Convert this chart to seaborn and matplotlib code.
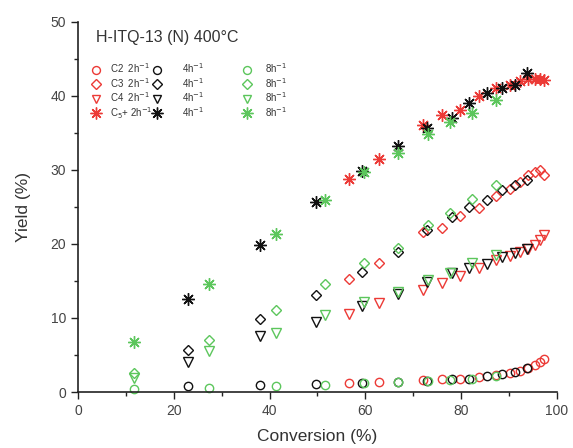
import numpy as np
import pandas as pd
import matplotlib
matplotlib.use("Agg")
import matplotlib.pyplot as plt
from matplotlib.lines import Line2D
import seaborn as sns

# conversion (%) for each space velocity
conv_2h = [56.6, 62.9, 72.0, 76.0, 79.8, 83.8, 87.3, 90.1, 92.3, 94.0, 95.4, 96.5, 97.3]
conv_4h = [22.9, 38.1, 49.6, 59.4, 66.9, 72.8, 78.0, 81.6, 85.3, 88.6, 91.2, 93.7]
conv_8h = [11.8, 27.3, 41.3, 51.6, 59.7, 66.8, 73.0, 77.7, 82.2, 87.2]

# yields (%) - 2h-1
c2_2h = [1.2, 1.4, 1.6, 1.8, 1.8, 2.0, 2.3, 2.5, 2.9, 3.2, 3.6, 4.0, 4.4]
c3_2h = [15.2, 17.4, 21.6, 22.1, 23.7, 24.8, 26.5, 27.4, 28.4, 29.3, 29.7, 30.0, 29.3]
c4_2h = [10.5, 12.0, 13.8, 14.7, 15.6, 16.7, 17.8, 18.3, 18.9, 19.3, 19.8, 20.5, 21.2]
c5_2h = [28.8, 31.5, 36.0, 37.4, 38.1, 39.9, 41.0, 41.4, 42.0, 42.2, 42.3, 42.2, 42.1]

# yields (%) - 4h-1
c2_4h = [0.8, 1.0, 1.1, 1.2, 1.4, 1.5, 1.7, 1.8, 2.1, 2.4, 2.7, 3.2]
c3_4h = [5.7, 9.8, 13.1, 16.2, 18.9, 21.8, 23.6, 25.0, 25.9, 27.2, 27.9, 28.6]
c4_4h = [4.1, 7.5, 9.5, 11.6, 13.2, 14.8, 16.0, 16.8, 17.3, 18.2, 18.8, 19.3]
c5_4h = [12.5, 19.8, 25.7, 29.8, 33.2, 35.6, 37.0, 39.0, 40.3, 41.0, 41.4, 43.0]

# yields (%) - 8h-1
c2_8h = [0.4, 0.5, 0.8, 0.9, 1.2, 1.3, 1.5, 1.6, 1.8, 2.2]
c3_8h = [2.5, 7.0, 11.1, 14.6, 17.4, 19.4, 22.5, 24.1, 26.1, 27.9]
c4_8h = [1.9, 5.6, 8.0, 10.4, 12.2, 13.5, 15.1, 16.1, 17.4, 18.5]
c5_8h = [6.8, 14.6, 21.3, 25.9, 29.7, 32.3, 34.8, 36.5, 37.6, 39.4]

products = ["C2", "C3", "C4", "C5+"]
whsv = ["2h", "4h", "8h"]

rows = []
for w, conv, ys in [("2h", conv_2h, [c2_2h, c3_2h, c4_2h, c5_2h]),
                    ("4h", conv_4h, [c2_4h, c3_4h, c4_4h, c5_4h]),
                    ("8h", conv_8h, [c2_8h, c3_8h, c4_8h, c5_8h])]:
    for p, y in zip(products, ys):
        for cx, cy in zip(conv, y):
            rows.append({"conv": cx, "yield": cy, "product": p, "whsv": w})
df = pd.DataFrame(rows)

sns.set_theme(style="ticks")
plt.rcParams['font.family'] = ['Liberation Sans', 'DejaVu Sans']

colors = {"2h": "#ec3a36", "4h": "#111111", "8h": "#5cc65c"}
markers = {"C2": "o", "C3": "D", "C4": "v", "C5+": (8, 2, 0)}
msizes = {"C2": 6, "C3": 5.5, "C4": 6.5, "C5+": 9}

fig = plt.figure(figsize=(5.73, 4.48), dpi=100)
ax = fig.add_axes([0.136, 0.125, 0.836, 0.827])

for w in whsv:
    for p in products:
        sub = df[(df["whsv"] == w) & (df["product"] == p)]
        sns.lineplot(
            data=sub, x="conv", y="yield", ax=ax,
            linestyle="", marker=markers[p], markersize=msizes[p],
            markerfacecolor="none", markeredgecolor=colors[w],
            markeredgewidth=1.0, color=colors[w], clip_on=False,
            estimator=None, sort=False,
        )

ax.set_xlim(0, 100)
ax.set_ylim(0, 50)
ax.set_xticks([0, 20, 40, 60, 80, 100])
ax.set_yticks([0, 10, 20, 30, 40, 50])
ax.set_xticks([10, 30, 50, 70, 90], minor=True)
ax.set_yticks([5, 15, 25, 35, 45], minor=True)
ax.tick_params(which="major", direction="out", length=5, width=1.0,
               labelsize=10, color="#222222", labelcolor="#444444")
ax.tick_params(which="minor", direction="out", length=3, width=1.0, color="#222222")
sns.despine(ax=ax)
for s in ["left", "bottom"]:
    ax.spines[s].set_linewidth(1.2)
    ax.spines[s].set_color("#222222")

ax.set_xlabel("Conversion (%)", fontsize=12.5, color="#333333", labelpad=8)
ax.set_ylabel("Yield (%)", fontsize=12.5, color="#333333", labelpad=14)

# title of the legend block
ax.text(0.037, 0.956, "H-ITQ-13 (N) 400°C", transform=ax.transAxes,
        fontsize=11.5, color="#333333", ha="left", va="center")

# one legend per space velocity column
row_names = ["C2  ", "C3  ", "C4  ", "C$_5$+ "]
col_names = ["2h$^{-1}$", "4h$^{-1}$", "8h$^{-1}$"]
col_x = [0.0275, 0.1547, 0.3425]
col_pad = [0.94, 2.07, 1.35]
for j, w in enumerate(whsv):
    handles = []
    labels = []
    for i, p in enumerate(products):
        handles.append(Line2D([], [], linestyle="", marker=markers[p],
                              markersize=msizes[p] * 0.95, markerfacecolor="none",
                              markeredgecolor=colors[w], markeredgewidth=1.0))
        if j == 0:
            labels.append(row_names[i] + col_names[j])
        else:
            labels.append(col_names[j])
    leg = ax.legend(handles, labels, loc="upper left",
                    bbox_to_anchor=(col_x[j], 0.8925), frameon=False,
                    fontsize=7, handlelength=1.0, handletextpad=col_pad[j],
                    labelspacing=0.08, borderpad=0, borderaxespad=0)
    for t in leg.get_texts():
        t.set_color("#333333")
    if j < 2:
        ax.add_artist(leg)

fig.savefig("out.png", dpi=100)
